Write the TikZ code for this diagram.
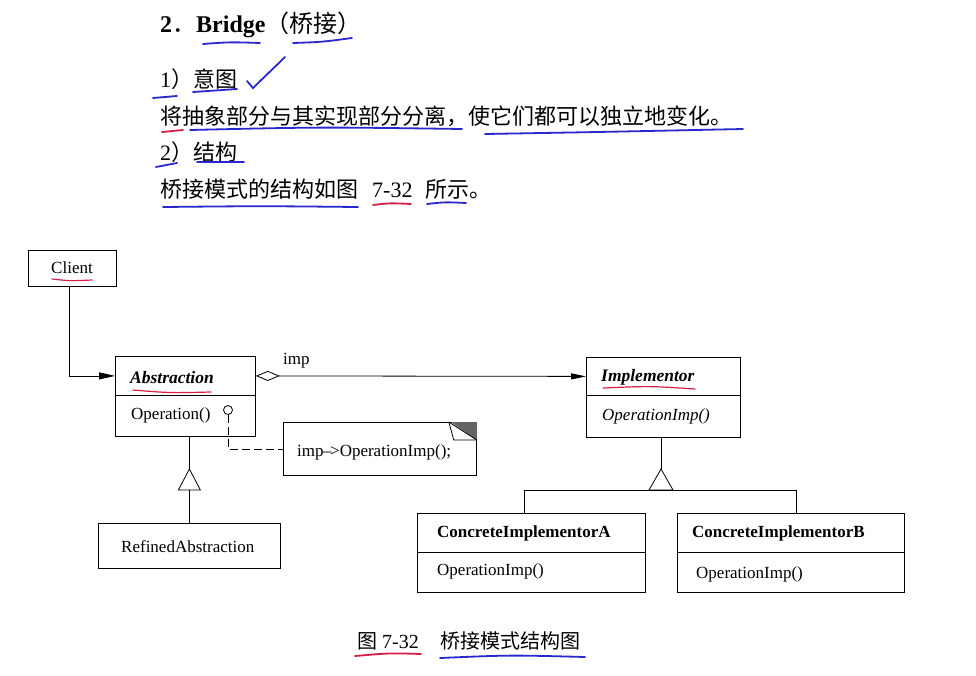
\documentclass[tikz,border=0pt]{standalone}
\usepackage{fontspec}
\setmainfont{Liberation Serif}
\newfontfamily\cjk{Noto Sans CJK SC}
\usetikzlibrary{arrows.meta}
\definecolor{penblue}{RGB}{40,40,205}
\definecolor{penred}{RGB}{215,30,70}
\definecolor{cornergray}{RGB}{100,100,100}
\tikzset{
  big/.style={inner sep=0pt, anchor=base west, font=\fontsize{22}{26}\selectfont},
  captxt/.style={inner sep=0pt, anchor=base west, font=\fontsize{20}{24}\selectfont},
  lbl/.style={inner sep=0pt, anchor=west, yshift=-2pt, font=\fontsize{17}{20}\selectfont},
  box/.style={draw, line width=0.8pt, inner sep=0pt, anchor=north west},
  wire/.style={line width=0.8pt},
  bluepen/.style={draw=penblue, line width=1.8pt, line cap=round},
  redpen/.style={draw=penred, line width=1.8pt, line cap=round},
}
\begin{document}
\begin{tikzpicture}[x=1pt,y=-1pt]
\useasboundingbox[fill=white] (0,0) rectangle (976,675);

% ---- header text ----
\node[big, font=\fontsize{24}{28}\selectfont] (title) at (160,32) {\textbf{2}{\cjk ．}\textbf{Bridge}{\cjk （桥接）}};
\node[big] (h1) at (160,87) {1{\cjk ）意图}};
\node[big] (s1) at (160,124) {\cjk 将抽象部分与其实现部分分离，使它们都可以独立地变化。};
\node[big] (h2) at (160,160) {2{\cjk ）结构}};
\node[big] (s2) at (160,197) {{\cjk 桥接模式的结构如图}\hspace{14pt}7-32\hspace{13pt}{\cjk 所示。}};

% ---- hand annotations ----
\draw[bluepen] (203,44) .. controls (230,42) .. (260,43);
\draw[bluepen] (293,43) .. controls (322,42) .. (352,38);
\draw[bluepen] (247,81) -- (253,88) -- (285,57);
\draw[bluepen] (153,98) -- (177,96);
\draw[bluepen] (193,92) .. controls (215,90) .. (237,89);
\draw[redpen] (162,132) -- (183,130);
\draw[bluepen] (190,130) .. controls (320,127) .. (462,129);
\draw[bluepen] (485,134) .. controls (600,132) .. (743,129);
\draw[bluepen] (156,167) -- (177,163);
\draw[bluepen] (197,162) .. controls (220,162) .. (244,162);
\draw[bluepen] (163,207) .. controls (260,206) .. (358,207);
\draw[redpen] (373,205) .. controls (390,203) .. (411,204);
\draw[bluepen] (427,204) .. controls (445,202) .. (466,203);

% ---- class boxes ----
\node[box, minimum width=88pt, minimum height=36pt] (client) at (28,250) {};
\node[lbl, anchor=center, yshift=1pt] (clientt) at (72,267) {Client};
\draw[redpen, line width=1.2pt] (52,279) .. controls (70,281) .. (92,280);

\node[box, minimum width=140pt, minimum height=39pt] (absname) at (115,356) {};
\node[box, minimum width=140pt, minimum height=41pt] (absbody) at (115,395) {};
\node[lbl, font=\fontsize{17.5}{20}\selectfont\bfseries\itshape] (abst) at (130,376) {Abstraction};
\draw[redpen, line width=1.2pt] (133,390) .. controls (170,393) .. (211,392);
\node[lbl] (absop) at (131,413) {Operation()};
\node[draw, circle, line width=0.8pt, minimum size=9pt, inner sep=0pt] (lol) at (228,410) {};

\node[box, minimum width=154pt, minimum height=38pt] (impname) at (586,357) {};
\node[box, minimum width=154pt, minimum height=42pt] (impbody) at (586,395) {};
\node[lbl, font=\fontsize{17.5}{20}\selectfont\bfseries\itshape] (impt) at (601,375) {Implementor};
\draw[redpen, line width=1.2pt] (603,388) .. controls (650,386) .. (695,389);
\node[lbl, font=\fontsize{17}{20}\selectfont\itshape] (impop) at (602,414) {OperationImp()};

\node[box, minimum width=182pt, minimum height=45pt] (refined) at (98,523) {};
\node[lbl] (reft) at (121,545) {RefinedAbstraction};

\node[box, minimum width=228pt, minimum height=39pt] (caname) at (417,513) {};
\node[box, minimum width=228pt, minimum height=40pt] (cabody) at (417,552) {};
\node[lbl, font=\fontsize{17}{20}\selectfont\bfseries] (cat) at (437,531) {ConcreteImplementorA};
\node[lbl] (caop) at (437,569) {OperationImp()};

\node[box, minimum width=227pt, minimum height=39pt] (cbname) at (677,513) {};
\node[box, minimum width=227pt, minimum height=40pt] (cbbody) at (677,552) {};
\node[lbl, font=\fontsize{17}{20}\selectfont\bfseries] (cbt) at (692,531) {ConcreteImplementorB};
\node[lbl] (cbop) at (696,572) {OperationImp()};

% ---- note ----
\node[box, minimum width=193pt, minimum height=53pt] (note) at (283,422) {};
\node[lbl] (notet) at (297,450) {imp{\kern-0.5pt}\textendash{\kern-1.5pt}>OperationImp();};
\fill[cornergray] (note.north east) -- ++(-26,0) -- ++(26,18) -- cycle;
\draw[wire] (note.north east) ++(-28,0) -- ++(5,18) -- ++(23,0);
\draw[wire] (note.north east) ++(-28,0) -- ++(28,18);

% ---- connectors ----
\draw[wire, -{Triangle[length=16pt, width=7pt]}] ([xshift=-3pt]client.south) |- (absname.west);
\draw[wire, {Diamond[open, length=24pt, width=10pt]}-{Triangle[length=15pt, width=6pt]}]
  (absname.east) -- (impname.west);
\node[lbl, anchor=base west, yshift=2pt] (impl) at (283,364) {imp};
\draw[wire, dashed, dash pattern=on 8pt off 4pt] (lol.south) |- (note.west);

% Abstraction generalisation
\coordinate (aapex) at (refined.north |- 0,469);
\coordinate (abase) at (refined.north |- 0,490);
\draw[wire] (absbody.south -| aapex) -- (aapex);
\draw[wire] (aapex) -- ++(-11,21) -- ++(22,0) -- cycle;
\draw[wire] (abase) -- (refined.north);

% Implementor generalisation
\coordinate (iapex) at (661,469);
\coordinate (ibase) at (661,490);
\draw[wire] (impbody.south -| iapex) -- (iapex);
\draw[wire] (iapex) -- ++(-12,21) -- ++(24,0) -- cycle;
\draw[wire] (caname.north -| 524,0) |- (ibase) -| (cbname.north -| 796,0);

% ---- caption ----
\node[captxt] (capa) at (357,648) {{\cjk 图} 7-32};
\node[captxt] (capb) at (440,648) {\cjk 桥接模式结构图};
\draw[redpen] (355,656) .. controls (390,653) .. (421,654);
\draw[bluepen] (440,658) .. controls (510,655) .. (585,657);
\end{tikzpicture}
\end{document}
